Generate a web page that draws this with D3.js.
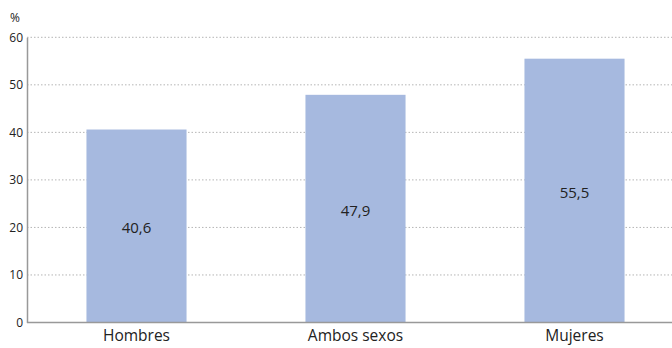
<!DOCTYPE html>
<html><head><meta charset="utf-8">
<script src="https://cdn.jsdelivr.net/npm/d3@7"></script>
<style>body{margin:0;background:#fff}svg{display:block;font-family:"Open Sans",sans-serif}</style>
</head><body><svg id="c" width="672" height="348"></svg>
<script>
const categories = ["Hombres", "Ambos sexos", "Mujeres"];
const values = [40.6, 47.9, 55.5];
const labels = ["40,6", "47,9", "55,5"];
const yTicks = [0, 10, 20, 30, 40, 50, 60];
const unit = "%";

const svg = d3.select("#c");
const x = d3.scaleBand().domain(categories).range([27, 684]).paddingInner(0.543).paddingOuter(0.2715);
const y = d3.scaleLinear().domain([0, 60]).range([322.5, 37.3]);

svg.append("g").selectAll("line").data(yTicks.filter(d => d > 0)).join("line")
  .attr("x1", 27).attr("x2", 672).attr("y1", d => y(d)).attr("y2", d => y(d))
  .attr("stroke", "#b5b5b5").attr("stroke-width", 1).attr("stroke-dasharray", "1.5,2");

svg.append("g").selectAll("rect").data(values).join("rect")
  .attr("x", (d, i) => x(categories[i])).attr("width", x.bandwidth())
  .attr("y", d => y(d)).attr("height", d => y(0) - y(d))
  .attr("fill", "#a6b9df");

svg.append("g").selectAll("text").data(values).join("text")
  .attr("x", (d, i) => x(categories[i]) + x.bandwidth() / 2)
  .attr("y", d => (y(d) + y(0)) / 2 + 7)
  .attr("text-anchor", "middle").attr("font-size", 15).attr("fill", "#222")
  .text((d, i) => labels[i]);

const yAxis = svg.append("g").attr("transform", "translate(27,0)")
  .call(d3.axisLeft(y).tickValues(yTicks).tickSize(0).tickPadding(4));
yAxis.select(".domain").attr("stroke", "#999").attr("stroke-width", 1.5);
yAxis.selectAll("text").attr("font-size", 12).attr("fill", "#222").attr("font-family", "Open Sans, sans-serif");

const xAxis = svg.append("g").attr("transform", "translate(0,322.5)")
  .call(d3.axisBottom(x).tickSize(0).tickPadding(7));
xAxis.select(".domain").attr("d", "M27,0H672").attr("stroke", "#999").attr("stroke-width", 1.5);
xAxis.selectAll("text").attr("font-size", 15.5).attr("fill", "#222").attr("font-family", "Open Sans, sans-serif");

svg.append("text").attr("x", 10).attr("y", 22).attr("font-size", 12).attr("fill", "#222").text(unit);
</script></body></html>
